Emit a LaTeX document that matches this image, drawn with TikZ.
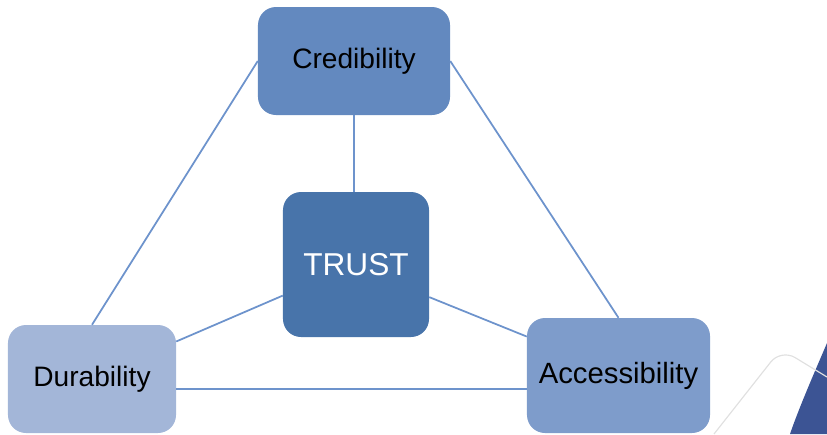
\documentclass[tikz,border=0pt]{standalone}
\usepackage{fontspec}
\setmainfont{Liberation Sans}
\usepackage{tikz}
\usetikzlibrary{positioning}
\usetikzlibrary{calc}
\definecolor{edgeblue}{HTML}{6D93CC}
\definecolor{credfill}{HTML}{6389BF}
\definecolor{trustfill}{HTML}{4874AA}
\definecolor{durfill}{HTML}{A3B6D8}
\definecolor{accfill}{HTML}{7E9CCB}
\definecolor{swooshblue}{HTML}{3C5494}
\tikzstyle{box}=[rectangle,rounded corners=0.54cm,inner sep=0pt,text=black,font=\fontsize{24}{28}\selectfont]
\tikzstyle{link} = [draw,line width=1.5pt,edgeblue]

\begin{document}
\begin{tikzpicture}[x=0.03cm,y=-0.03cm]
    \useasboundingbox (0,0) rectangle (827,434);

    % corner decoration
    \fill[swooshblue] (827,343) .. controls (812,378) and (799,408) .. (790,434) -- (827,434) -- cycle;
    \draw[black!12, line width=1pt, rounded corners=14pt] (714,434) -- (781,349) -- (827,377);

    % the four boxes
    \node[box, fill=credfill, minimum width=5.76cm, minimum height=3.24cm] (C) at (354,61) {Credibility};
    \node[box, fill=trustfill, text=white, minimum width=4.38cm, minimum height=4.35cm, font=\fontsize{27}{32}\selectfont] (T) at (356,264.5) {TRUST};
    \node[box, fill=durfill, minimum width=5.04cm, minimum height=3.24cm] (D) at (92,379) {Durability};
    \node[box, fill=accfill, minimum width=5.49cm, minimum height=3.45cm, font=\fontsize{25}{29}\selectfont] (A) at (618.5,375.5) {Accessibility};

    % Connect the boxes
    \foreach \source/\dest in {C.west/D.north, C.east/A.north, T.203/D.24, T.336/A.157}
        \path[link] (\source) -- (\dest);
    \path[link] (C.south) -- (C.south |- T.north);
    \path[link] (D.-7) -- (D.-7 -| A.west);
\end{tikzpicture}
\end{document}
